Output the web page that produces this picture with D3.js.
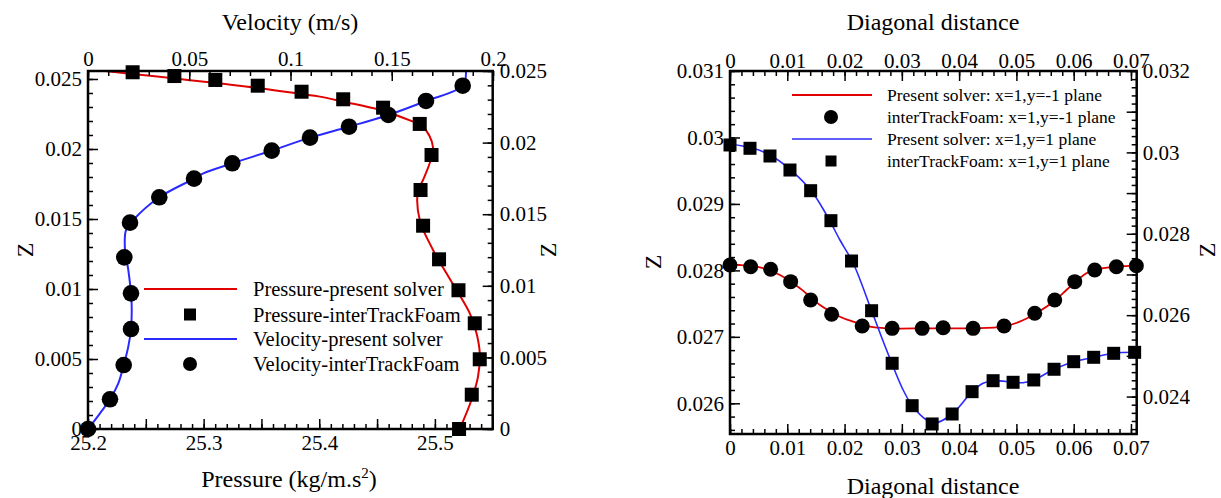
<!DOCTYPE html>
<html><head><meta charset="utf-8">
<script src="https://cdn.jsdelivr.net/npm/d3@7"></script>
<style>
html,body{margin:0;padding:0;background:#fff;}
</style></head>
<body>
<svg id="chart" width="1221" height="498"></svg>
<script>
// ---------- Left panel data ----------
// Pressure (kg/m.s^2) vs Z : present solver (line)
const pressLineP = [25.2147,25.3487,25.3832,25.4005,25.4207,25.4524,25.4812,25.4898,25.4984,25.4898,25.4855,25.4869,25.4984,25.5100,25.5187,25.5302,25.5360,25.5388,25.5373,25.5316,25.5215];
const pressLineZ = [0.02557,0.02434,0.02393,0.02374,0.02338,0.02279,0.02195,0.02159,0.02012,0.01779,0.01707,0.01493,0.01279,0.01112,0.00993,0.00826,0.00684,0.00541,0.00374,0.00207,0];
// Pressure interTrackFoam (squares)
const pressPtsP = [25.2386,25.2747,25.3101,25.3468,25.3847,25.4207,25.4552,25.4869,25.4971,25.4876,25.4898,25.5036,25.5204,25.5345,25.5388,25.5319,25.5209];
const pressPtsZ = [0.02548,0.02521,0.02493,0.02452,0.02409,0.02355,0.02295,0.02179,0.01957,0.01707,0.01452,0.01212,0.00991,0.00755,0.00498,0.00245,0];
// Velocity (m/s) vs Z : present solver (line)
const velLineV = [0,0.00593,0.01086,0.01496,0.01763,0.01990,0.02123,0.02148,0.01990,0.01827,0.01877,0.02237,0.03521,0.05235,0.05694,0.07126,0.09072,0.10963,0.12889,0.14830,0.16691,0.18504,0.18667];
const velLineZ = [0,0.00112,0.00212,0.00326,0.00457,0.00588,0.00714,0.00921,0.01136,0.01279,0.01421,0.01493,0.01655,0.01788,0.01826,0.01898,0.01988,0.02081,0.02159,0.02243,0.02343,0.02452,0.02552];
// Velocity interTrackFoam (circles)
const velPtsV = [0,0.01086,0.01763,0.02123,0.02123,0.01793,0.02074,0.03521,0.05235,0.07126,0.09072,0.10963,0.12889,0.14830,0.16691,0.18504];
const velPtsZ = [0,0.00212,0.00457,0.00714,0.00969,0.01226,0.01474,0.01655,0.01788,0.01898,0.01988,0.02081,0.02159,0.02243,0.02343,0.02452];

// ---------- Right panel data ----------
// x=1,y=-1 plane : present solver (red line)
const redLineD = [0,0.00174,0.00523,0.00872,0.01221,0.01570,0.01919,0.02151,0.02442,0.02733,0.03500,0.04244,0.04767,0.05058,0.05320,0.05669,0.05873,0.06018,0.06222,0.06367,0.06745,0.07094];
const redLineZ = [0.028081,0.028081,0.028046,0.027930,0.027730,0.027479,0.027303,0.027228,0.027153,0.027128,0.027128,0.027128,0.027153,0.027228,0.027344,0.027544,0.027705,0.027815,0.027956,0.028006,0.028055,0.028070];
// x=1,y=-1 plane : interTrackFoam (circles)
const redPtsD = [0,0.00361,0.00710,0.01059,0.01408,0.01774,0.02308,0.02831,0.03355,0.03721,0.04244,0.04785,0.05320,0.05669,0.06018,0.06367,0.06745,0.07094];
const redPtsZ = [0.028081,0.028055,0.028016,0.027830,0.027554,0.027339,0.027163,0.027128,0.027128,0.027137,0.027128,0.027163,0.027354,0.027554,0.027830,0.028006,0.028055,0.028070];
// x=1,y=1 plane : present solver (blue line)
const blueLineD = [0,0.00406,0.00698,0.01047,0.01408,0.01687,0.01919,0.02151,0.02472,0.02733,0.03023,0.03180,0.03431,0.03576,0.03878,0.04226,0.04418,0.04593,0.04942,0.05116,0.05303,0.05657,0.06000,0.06349,0.06698,0.07064];
const blueLineZ = [0.029902,0.029837,0.029736,0.029521,0.029209,0.028833,0.028457,0.028107,0.027393,0.026802,0.026200,0.025967,0.025749,0.025704,0.025839,0.026175,0.026301,0.026340,0.026316,0.026310,0.026351,0.026512,0.026626,0.026692,0.026752,0.026767];
// x=1,y=1 plane : interTrackFoam (squares)
const bluePtsD = [0,0.00349,0.00698,0.01047,0.01408,0.01762,0.02122,0.02472,0.02831,0.03180,0.03529,0.03878,0.04226,0.04593,0.04942,0.05303,0.05657,0.06000,0.06349,0.06698,0.07064];
const bluePtsZ = [0.029887,0.029837,0.029721,0.029510,0.029199,0.028748,0.028141,0.027393,0.026602,0.025964,0.025689,0.025839,0.026175,0.026340,0.026316,0.026351,0.026512,0.026626,0.026692,0.026752,0.026767];

// ---------- Tick labels / texts ----------
const leftLegend = ["Pressure-present solver","Pressure-interTrackFoam","Velocity-present solver","Velocity-interTrackFoam"];
const rightLegend = ["Present solver: x=1,y=-1 plane","interTrackFoam: x=1,y=-1 plane","Present solver: x=1,y=1 plane","interTrackFoam: x=1,y=1 plane"];
const pressTicks = [25.2,25.3,25.4,25.5];
const velTicks = [0,0.05,0.1,0.15,0.2];
const zTicksL = [0,0.005,0.01,0.015,0.02,0.025];
const distTicks = [0,0.01,0.02,0.03,0.04,0.05,0.06,0.07];
const zTicksRL = [0.026,0.027,0.028,0.029,0.03,0.031];
const zTicksRR = [0.024,0.026,0.028,0.03,0.032];

const RED = "#e00000", BLUE = "#2a2aff";
const SERIF = "'Liberation Serif','Times New Roman',Times,serif";
const TICK_FS = 21, TITLE_FS = 24;
const svg = d3.select("#chart");
const fmt = d => String(+d.toFixed(4));
const rng = (a,b,s) => d3.range(Math.round(a/s), Math.round(b/s)+1).map(i => +(i*s).toFixed(6));

function axisSet(g, scale, orient, major, labeled, minor, fontSize, pad) {
  const mk = {left:d3.axisLeft, right:d3.axisRight, top:d3.axisTop, bottom:d3.axisBottom}[orient];
  const gm = g.append("g").call(mk(scale).tickValues(minor).tickSize(-5).tickFormat(""));
  const gM = g.append("g").call(mk(scale).tickValues(major).tickSize(-10).tickFormat(""));
  const gl = g.append("g").call(mk(scale).tickValues(labeled).tickSize(0).tickPadding(pad).tickFormat(fmt));
  [gm,gM,gl].forEach(x => { x.select(".domain").remove(); x.selectAll("line").attr("stroke","#000").attr("stroke-width",1.5); });
  gl.selectAll("text").style("font-size", fontSize+"px").attr("fill","#000");
  return gl;
}

// ================= LEFT PANEL =================
{
  const L = 88, R = 492.7, T = 71, B = 429;
  const xP = d3.scaleLinear().domain([25.2, 25.55]).range([L, R]);
  const xV = d3.scaleLinear().domain([0, 0.2]).range([L, 493]);
  const yZ = d3.scaleLinear().domain([0, 0.02557]).range([B, T]);
  const yZr = d3.scaleLinear().domain([0, 0.025]).range([B, T]);
  const g = svg.append("g");

  svg.append("defs").append("clipPath").attr("id","clipL").append("rect")
    .attr("x",L).attr("y",T-1).attr("width",R-L).attr("height",B-T+2);

  const lineP = d3.line().x(i => xP(pressLineP[i])).y(i => yZ(pressLineZ[i])).curve(d3.curveCatmullRom.alpha(0.5));
  g.append("path").attr("d", lineP(d3.range(pressLineP.length))).attr("fill","none").attr("stroke",RED).attr("stroke-width",2).attr("clip-path","url(#clipL)");
  const lineV = d3.line().x(i => xV(velLineV[i])).y(i => yZ(velLineZ[i])).curve(d3.curveCatmullRom.alpha(0.5));
  g.append("path").attr("d", lineV(d3.range(velLineV.length))).attr("fill","none").attr("stroke",BLUE).attr("stroke-width",2).attr("clip-path","url(#clipL)");

  const sq = 14;
  g.selectAll(".sqL").data(d3.range(pressPtsP.length)).join("rect")
    .attr("x", i => xP(pressPtsP[i]) - sq/2).attr("y", i => yZ(pressPtsZ[i]) - sq/2)
    .attr("width", sq).attr("height", sq).attr("fill","#000");
  g.selectAll(".ciL").data(d3.range(velPtsV.length)).join("circle")
    .attr("cx", i => xV(velPtsV[i])).attr("cy", i => yZ(velPtsZ[i])).attr("r", 8.3).attr("fill","#000");

  // axes
  axisSet(g.append("g").attr("transform",`translate(0,${B})`), xP, "bottom", rng(25.2,25.55,0.05), pressTicks, rng(25.2,25.55,0.01), TICK_FS, 6)
    .selectAll("text").text(d => d.toFixed(1));
  axisSet(g.append("g").attr("transform",`translate(0,${T})`), xV, "top", velTicks, velTicks, rng(0,0.2,0.01), TICK_FS, 5);
  axisSet(g.append("g").attr("transform",`translate(${L},0)`), yZ, "left", zTicksL, zTicksL, rng(0,0.025,0.001), TICK_FS, 6);
  axisSet(g.append("g").attr("transform",`translate(${R},0)`), yZr, "right", zTicksL, zTicksL, rng(0,0.025,0.001), TICK_FS, 7);
  g.append("rect").attr("x",L).attr("y",T).attr("width",R-L).attr("height",B-T).attr("fill","none").attr("stroke","#000").attr("stroke-width",2.5);

  // titles
  g.append("text").attr("x",290).attr("y",30).attr("text-anchor","middle").style("font-size",TITLE_FS+"px").text("Velocity (m/s)");
  const bt = g.append("text").attr("x",289).attr("y",487).attr("text-anchor","middle").style("font-size",TITLE_FS+"px");
  bt.append("tspan").text("Pressure (kg/m.s");
  bt.append("tspan").attr("dy",-9).style("font-size","15px").text("2");
  bt.append("tspan").attr("dy",9).text(")");
  g.append("text").attr("transform","translate(33,250) rotate(-90)").attr("text-anchor","middle").style("font-size",TITLE_FS+"px").text("Z");
  g.append("text").attr("transform","translate(556,250) rotate(-90)").attr("text-anchor","middle").style("font-size",TITLE_FS+"px").text("Z");

  // legend
  const ly = [289, 314.5, 339, 364];
  const lg = g.append("g");
  lg.append("line").attr("x1",144).attr("x2",237).attr("y1",ly[0]).attr("y2",ly[0]).attr("stroke",RED).attr("stroke-width",2);
  lg.append("rect").attr("x",190-6).attr("y",ly[1]-6).attr("width",12).attr("height",12).attr("fill","#000");
  lg.append("line").attr("x1",144).attr("x2",237).attr("y1",ly[2]).attr("y2",ly[2]).attr("stroke",BLUE).attr("stroke-width",2);
  lg.append("circle").attr("cx",190).attr("cy",ly[3]).attr("r",7).attr("fill","#000");
  lg.selectAll("text").data(leftLegend).join("text").attr("x",253).attr("y",(d,i)=>ly[i]+7).style("font-size","20.5px").text(d=>d);
}

// ================= RIGHT PANEL =================
{
  const L = 730, R = 1136.7, T = 71, B = 434;
  const xD = d3.scaleLinear().domain([0, 0.071]).range([L, R]);
  const yZ = d3.scaleLinear().domain([0.025538, 0.031]).range([B, T]);
  const yZr = d3.scaleLinear().domain([0.02308, 0.032]).range([B, T]);
  const g = svg.append("g");
  svg.select("defs").append("clipPath").attr("id","clipR").append("rect")
    .attr("x",L).attr("y",T).attr("width",R-L).attr("height",B-T);

  const lineR = d3.line().x(i => xD(redLineD[i])).y(i => yZ(redLineZ[i])).curve(d3.curveCatmullRom.alpha(0.5));
  g.append("path").attr("d", lineR(d3.range(redLineD.length))).attr("fill","none").attr("stroke",RED).attr("stroke-width",1.8).attr("clip-path","url(#clipR)");
  const lineB = d3.line().x(i => xD(blueLineD[i])).y(i => yZ(blueLineZ[i])).curve(d3.curveCatmullRom.alpha(0.5));
  g.append("path").attr("d", lineB(d3.range(blueLineD.length))).attr("fill","none").attr("stroke",BLUE).attr("stroke-width",1.6).attr("clip-path","url(#clipR)");

  g.selectAll(".ciR").data(d3.range(redPtsD.length)).join("circle")
    .attr("cx", i => xD(redPtsD[i])).attr("cy", i => yZ(redPtsZ[i])).attr("r", 7.5).attr("fill","#000");
  const sq = 13;
  g.selectAll(".sqR").data(d3.range(bluePtsD.length)).join("rect")
    .attr("x", i => xD(bluePtsD[i]) - sq/2).attr("y", i => yZ(bluePtsZ[i]) - sq/2)
    .attr("width", sq).attr("height", sq).attr("fill","#000");

  axisSet(g.append("g").attr("transform",`translate(0,${B})`), xD, "bottom", distTicks, distTicks, rng(0,0.07,0.002), TICK_FS, 6);
  axisSet(g.append("g").attr("transform",`translate(0,${T})`), xD, "top", distTicks, distTicks, rng(0,0.07,0.002), TICK_FS, 3);
  axisSet(g.append("g").attr("transform",`translate(${L},0)`), yZ, "left", zTicksRL, zTicksRL, rng(0.0256,0.031,0.0002), TICK_FS, 6);
  axisSet(g.append("g").attr("transform",`translate(${R},0)`), yZr, "right", rng(0.024,0.032,0.001), zTicksRR, rng(0.0232,0.032,0.0002), TICK_FS, 6);
  g.append("rect").attr("x",L).attr("y",T).attr("width",R-L).attr("height",B-T).attr("fill","none").attr("stroke","#000").attr("stroke-width",2.5);

  g.append("text").attr("x",933).attr("y",30).attr("text-anchor","middle").style("font-size",TITLE_FS+"px").text("Diagonal distance");
  g.append("text").attr("x",933).attr("y",494).attr("text-anchor","middle").style("font-size",TITLE_FS+"px").text("Diagonal distance");
  g.append("text").attr("transform","translate(661,262) rotate(-90)").attr("text-anchor","middle").style("font-size",TITLE_FS+"px").text("Z");
  g.append("text").attr("transform","translate(1215,250) rotate(-90)").attr("text-anchor","middle").style("font-size",TITLE_FS+"px").text("Z");

  const ly = [95, 117, 139, 161];
  const lg = g.append("g");
  lg.append("line").attr("x1",792).attr("x2",872).attr("y1",ly[0]).attr("y2",ly[0]).attr("stroke",RED).attr("stroke-width",1.8);
  lg.append("circle").attr("cx",831).attr("cy",ly[1]).attr("r",7).attr("fill","#000");
  lg.append("line").attr("x1",792).attr("x2",872).attr("y1",ly[2]).attr("y2",ly[2]).attr("stroke",BLUE).attr("stroke-width",1.6);
  lg.append("rect").attr("x",831-5.5).attr("y",ly[3]-5.5).attr("width",11).attr("height",11).attr("fill","#000");
  lg.selectAll("text").data(rightLegend).join("text").attr("x",887).attr("y",(d,i)=>ly[i]+6).style("font-size","17.5px").text(d=>d);
}
// force serif font on every text (axis groups set sans-serif attributes)
svg.selectAll("g").attr("font-family", null);
svg.selectAll("text").style("font-family", SERIF).style("fill","#000");
</script>
</body></html>
